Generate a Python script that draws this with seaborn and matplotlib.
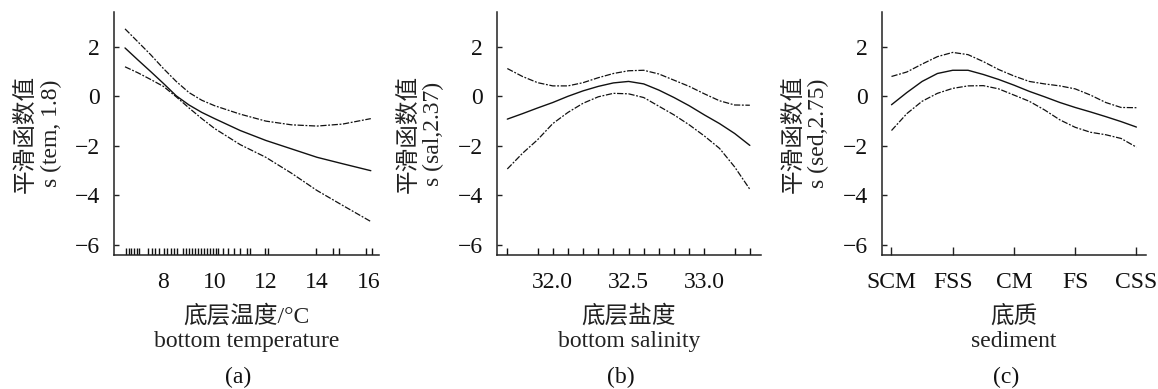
import matplotlib
matplotlib.use("Agg")
import matplotlib.pyplot as plt
import seaborn as sns
import numpy as np
import pandas as pd

# ---------------- data ----------------
# (a) bottom temperature
tem_x = [6.5, 7.0, 7.5, 8.0, 8.5, 9.0, 9.5, 10.0, 11.0, 12.0, 13.0, 14.0, 15.0, 16.1]
tem_fit = [1.95, 1.47, 1.0, 0.52, 0.02, -0.35, -0.65, -0.9, -1.38, -1.78, -2.12, -2.46, -2.72, -3.0]
tem_upper = [2.72, 2.2, 1.68, 1.12, 0.6, 0.15, -0.16, -0.38, -0.72, -1.0, -1.15, -1.2, -1.12, -0.9]
tem_lower = [1.19, 0.95, 0.68, 0.4, -0.02, -0.47, -0.9, -1.3, -1.95, -2.46, -3.1, -3.8, -4.4, -5.05]
tem_rug = [6.55, 6.65, 6.75, 6.85, 6.95, 7.05, 7.38, 7.54, 7.68, 7.81, 8.01, 8.13, 8.29,
           8.41, 8.53, 8.76, 8.88, 9.0, 9.12, 9.24, 9.36, 9.47, 9.59, 9.71, 9.83, 9.95,
           10.07, 10.15, 10.34, 10.54, 10.74, 10.98, 11.25, 11.38, 11.95, 12.08, 13.95,
           14.64, 14.84, 15.93, 16.15]

# (b) bottom salinity
sal_x = [31.7, 31.8, 31.9, 32.0, 32.1, 32.2, 32.3, 32.4, 32.5, 32.6, 32.7, 32.8, 32.9,
         33.0, 33.1, 33.2, 33.3]
sal_fit = [-0.92, -0.7, -0.47, -0.25, 0.0, 0.22, 0.4, 0.54, 0.6, 0.5, 0.25, -0.05, -0.38,
           -0.75, -1.1, -1.5, -1.98]
sal_upper = [1.12, 0.8, 0.55, 0.42, 0.42, 0.55, 0.75, 0.92, 1.03, 1.05, 0.9, 0.65, 0.4,
             0.1, -0.18, -0.35, -0.36]
sal_lower = [-2.93, -2.3, -1.75, -1.1, -0.65, -0.28, -0.02, 0.12, 0.1, -0.05, -0.4, -0.75,
             -1.15, -1.6, -2.1, -2.85, -3.75]
sal_rug = [31.7, 31.9, 32.0, 32.1, 32.2, 32.3, 32.4, 32.5, 32.6, 32.7, 32.8, 32.9, 33.0,
           33.2, 33.3]

# (c) sediment
sed_categories = ["SCM", "FSS", "CM", "FS", "CSS"]
sed_x = [1.0, 1.25, 1.5, 1.75, 2.0, 2.25, 2.5, 2.75, 3.0, 3.25, 3.5, 3.75, 4.0, 4.25,
         4.5, 4.75, 5.0]
sed_fit = [-0.34, 0.15, 0.6, 0.92, 1.05, 1.05, 0.88, 0.68, 0.45, 0.2, -0.02, -0.25, -0.45,
           -0.63, -0.82, -1.02, -1.24]
sed_upper = [0.8, 0.98, 1.3, 1.6, 1.77, 1.68, 1.4, 1.08, 0.82, 0.6, 0.5, 0.42, 0.3, 0.05,
             -0.25, -0.45, -0.46]
sed_lower = [-1.38, -0.7, -0.2, 0.12, 0.32, 0.42, 0.43, 0.3, 0.05, -0.2, -0.55, -0.95,
             -1.25, -1.45, -1.55, -1.7, -2.05]

y_ticks = [-6, -4, -2, 0, 2]
ylabels = ["平滑函数值\ns (tem, 1.8)", "平滑函数值\ns (sal,2.37)", "平滑函数值\ns (sed,2.75)"]
xlabels = ["底层温度/°C\nbottom temperature", "底层盐度\nbottom salinity", "底质\nsediment"]
panel_tags = ["(a)", "(b)", "(c)"]

# ---------------- style ----------------
sns.set_theme(style="ticks")
plt.rcParams["font.family"] = ["Liberation Serif", "Noto Sans CJK SC", "DejaVu Sans"]
plt.rcParams["axes.unicode_minus"] = True

W, H = 1158, 389
fig = plt.figure(figsize=(W / 100, H / 100), dpi=100)

lefts = [114, 496.7, 881.7]
axw = 264.5
top_px, bot_px = 12, 255
axes = []
for l in lefts:
    ax = fig.add_axes([l / W, (H - bot_px) / H, axw / W, (bot_px - top_px) / H])
    axes.append(ax)

ci_ls = (0, (5, 1.3, 1.5, 1.3))
lw = 1.0
ink = "#111111"

panels = [
    (tem_x, tem_fit, tem_upper, tem_lower, (6.07, 16.4)),
    (sal_x, sal_fit, sal_upper, sal_lower, (31.63, 33.375)),
    (sed_x, sed_fit, sed_upper, sed_lower, (0.84, 5.16)),
]

for i, (ax, (xs, fit, up, lo, xl)) in enumerate(zip(axes, panels)):
    df = pd.DataFrame({"x": xs, "fit": fit, "upper": up, "lower": lo})
    sns.lineplot(data=df, x="x", y="fit", ax=ax, color=ink, lw=lw, estimator=None)
    sns.lineplot(data=df, x="x", y="upper", ax=ax, color=ink, lw=0.9, estimator=None,
                 linestyle=ci_ls)
    sns.lineplot(data=df, x="x", y="lower", ax=ax, color=ink, lw=0.9, estimator=None,
                 linestyle=ci_ls)
    ax.set_xlim(*xl)
    ax.set_ylim(-6.4, 3.4)
    ax.set_yticks(y_ticks)
    ax.set_yticklabels([f"{v}".replace("-", "\u2212") for v in y_ticks])
    sns.despine(ax=ax)
    for s in ["left", "bottom"]:
        ax.spines[s].set_linewidth(1.1)
        ax.spines[s].set_color("#222222")
    ax.tick_params(axis="y", direction="in", length=3.5, width=1.0, pad=10,
                   labelsize=17, colors="#222222", labelcolor="#111111")
    ax.tick_params(axis="x", direction="in", length=5, width=1.0, pad=12,
                   labelsize=17, colors="#222222", labelcolor="#111111")
    ax.set_ylabel(ylabels[i], fontsize=17, linespacing=1.22, color="#222222")
    ax.yaxis.set_label_coords(-0.198, 0.5)
    ax.set_xlabel(xlabels[i], fontsize=17, linespacing=1.22, color="#222222")
    ax.xaxis.set_label_coords(0.5, -0.205)
    ax.text(0.47, -0.502, panel_tags[i], transform=ax.transAxes, ha="center", va="center",
            fontsize=17, color="#111111")
    ax.grid(False)

# panel (a)
sns.rugplot(x=tem_rug, ax=axes[0], height=0.03, color=ink, lw=1.0)
axes[0].set_xticks([8, 10, 12, 14, 16])
axes[0].tick_params(axis="x", length=0, pad=12)

# panel (b)
sns.rugplot(x=sal_rug, ax=axes[1], height=0.03, color=ink, lw=1.0)
axes[1].set_xticks([32.0, 32.5, 33.0])
axes[1].set_xticklabels(["32.0", "32.5", "33.0"])
axes[1].tick_params(axis="x", length=0, pad=12)

# panel (c)
axes[2].set_xticks(range(1, len(sed_categories) + 1))
axes[2].set_xticklabels(sed_categories)
axes[2].tick_params(axis="x", length=6, pad=12)

fig.savefig("out.png", dpi=100)
